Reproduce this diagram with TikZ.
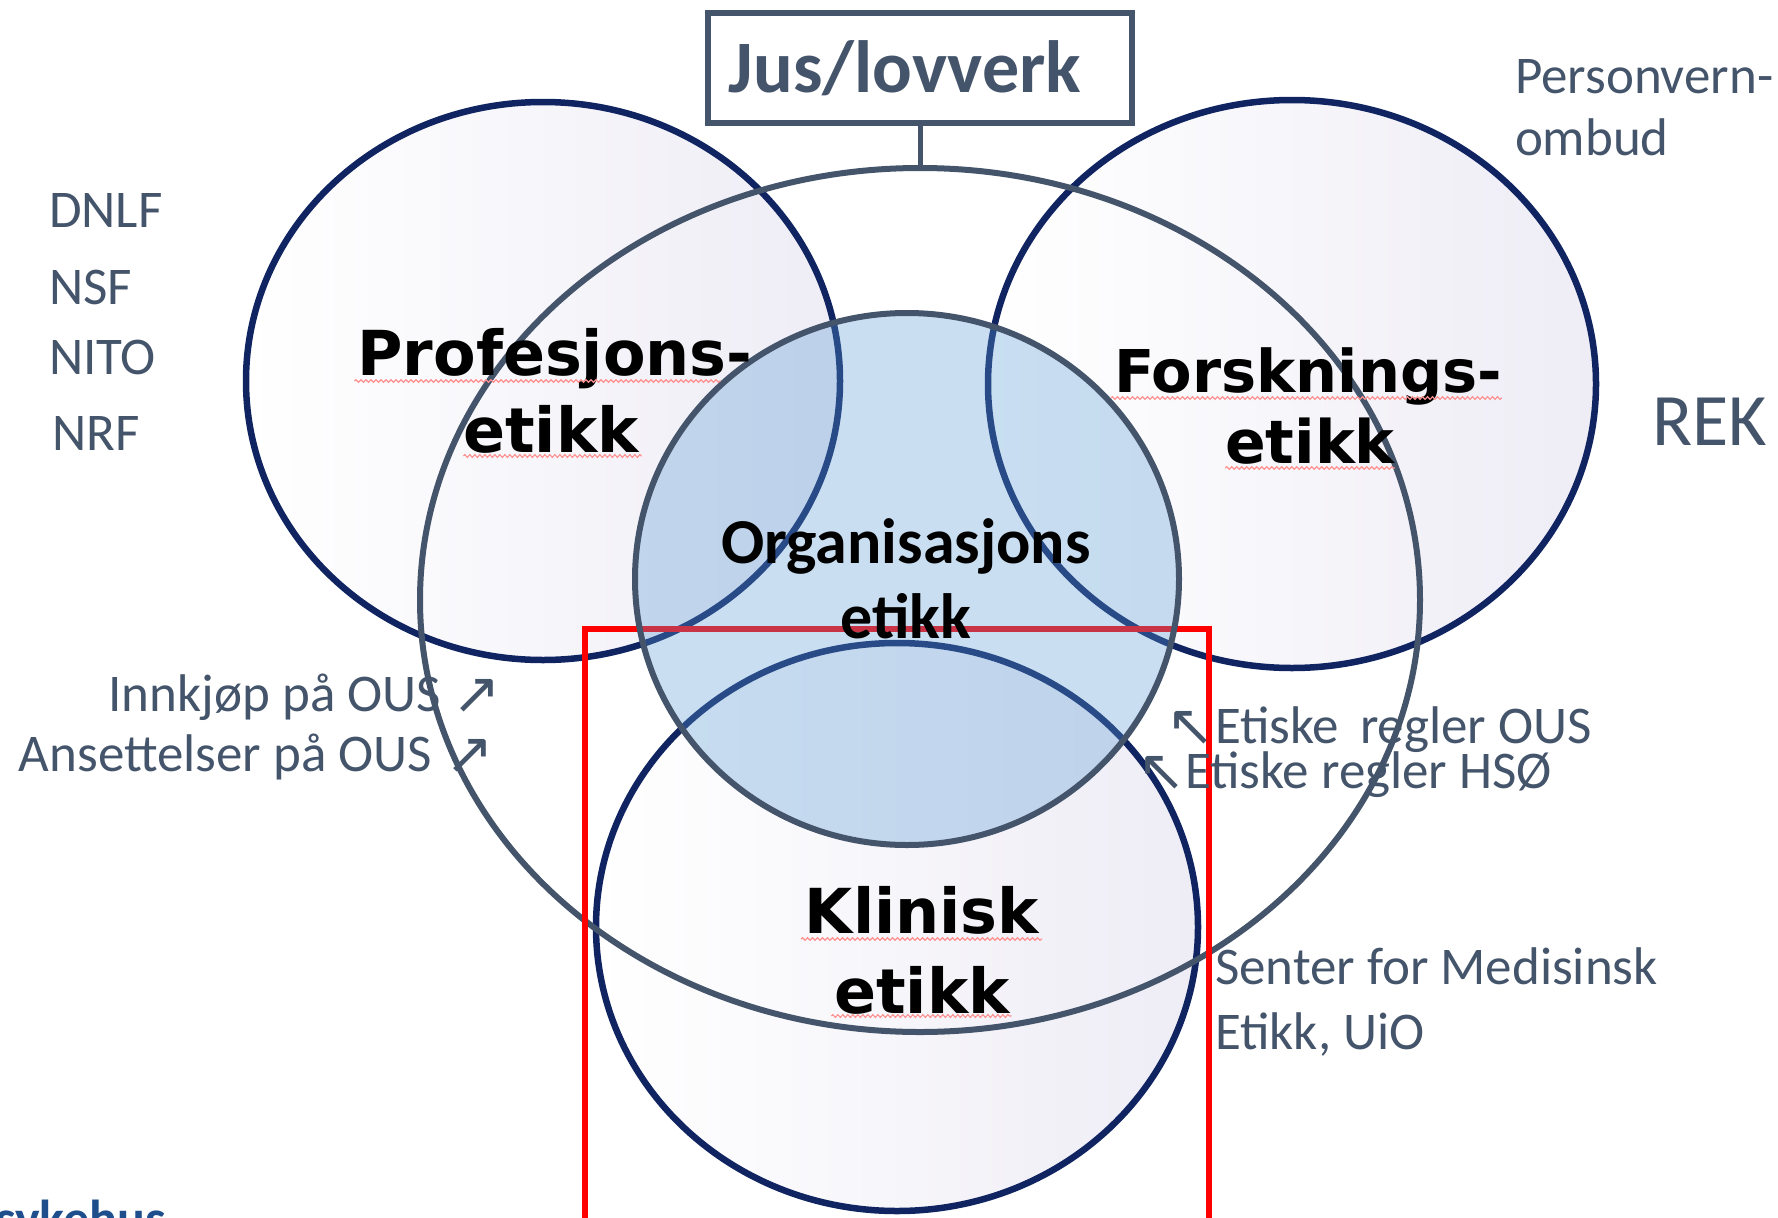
\documentclass[tikz,border=0pt]{standalone}
\usepackage{fontspec}
\setmainfont{Carlito}
\newfontfamily\verd{DejaVu Sans}
\newfontfamily\symf{DejaVu Sans}
\usetikzlibrary{decorations.pathmorphing,calc}
\definecolor{slate}{HTML}{44546A}
\definecolor{navy}{HTML}{0F2461}
\definecolor{orgblue}{HTML}{5B9BD5}
\definecolor{lav}{HTML}{EEECF5}
\definecolor{wavy}{HTML}{FF9090}
\definecolor{logoblue}{HTML}{1F4E8C}
\begin{document}
\begin{tikzpicture}[x=1pt,y=-1pt,
  venn/.style={draw=navy,line width=6.5pt,left color=white,right color=lav},
  outl/.style={draw=slate,line width=6pt},
  lbl/.style={inner sep=0pt,outer sep=0pt,text=slate,font=\fontsize{53}{62}\selectfont},
  arr/.style={inner sep=0pt,outer sep=0pt,text=slate,font=\symf\fontsize{58}{62}\selectfont},
  bigt/.style={inner sep=0pt,outer sep=0pt,text=black},
  orgt/.style={inner sep=0pt,outer sep=0pt,text=black,font=\bfseries\fontsize{64}{70}\selectfont},
  sq/.style={draw=wavy,line width=1.2pt,decorate,decoration={snake,segment length=5pt,amplitude=1.3pt}},
]
\useasboundingbox (0,0) rectangle (1778,1218);
\clip (0,0) rectangle (1778,1218);

% side circles
\path[venn] (543,381) ellipse [x radius=297pt, y radius=279pt];
\path[venn] (1292,384) ellipse [x radius=304pt, y radius=284pt];
\path[venn] (897,927) ellipse [x radius=301pt, y radius=284pt];

% big ellipse
\draw[outl] (920,600) ellipse [x radius=500pt, y radius=432pt];
\coordinate (ellTop) at (920,168);

% red frame
\draw[red, line width=6pt] (585,629) rectangle (1209,1230);

% organisation circle
\fill[orgblue, fill opacity=0.33] (907,579) ellipse [x radius=272pt, y radius=266pt];
\draw[outl] (907,579) ellipse [x radius=272pt, y radius=266pt];

% law box
\node[draw=slate, line width=6pt, minimum width=424pt, minimum height=110pt, inner sep=0pt] (jus) at (920,68) {};
\node[inner sep=0pt, text=slate, font=\bfseries\fontsize{74}{80}\selectfont, anchor=base] (jusT) at (905,92) {Jus/lovverk};
\draw[slate, line width=5pt] (jus.south) -- (ellTop);

% circle titles
\node[bigt, font=\verd\bfseries\fontsize{62}{70}\selectfont, anchor=base] (prof1) at (555,375) {Profesjons-};
\node[bigt, font=\verd\bfseries\fontsize{62}{70}\selectfont, anchor=base] (prof2) at (551,452) {etikk};
\node[bigt, font=\verd\bfseries\fontsize{59}{70}\selectfont, anchor=base] (fors1) at (1308,392) {Forsknings-};
\node[bigt, font=\verd\bfseries\fontsize{60}{70}\selectfont, anchor=base] (fors2) at (1310,463) {etikk};
\node[bigt, font=\verd\bfseries\fontsize{62}{70}\selectfont, anchor=base] (klin1) at (922,933) {Klinisk};
\node[bigt, font=\verd\bfseries\fontsize{62}{70}\selectfont, anchor=base] (klin2) at (922,1013) {etikk};
\node[orgt, anchor=base] (org1) at (906,563) {Organisasjons};
\node[orgt, anchor=base] (org2) at (906,638) {etikk};

% spell-check underlines
\draw[sq] ($(prof1.base west)+(-3,6)$) -- ($(prof1.base east)+(-32,6)$);
\draw[sq] ($(prof2.base west)+(0,4)$) -- ($(prof2.base east)+(3,4)$);
\draw[sq] ($(fors1.base west)+(-3,6)$) -- ($(fors1.base east)+(0,6)$);
\draw[sq] ($(fors2.base west)+(0,5)$) -- ($(fors2.base east)+(0,5)$);
\draw[sq] ($(klin1.base west)+(-4,6)$) -- ($(klin1.base east)+(3,6)$);
\draw[sq] ($(klin2.base west)+(-3,3)$) -- ($(klin2.base east)+(2,3)$);

% side labels
\node[lbl, anchor=base west] (dnlf) at (49,227) {DNLF};
\node[lbl, anchor=base west] (nsf) at (49,304) {NSF};
\node[lbl, anchor=base west] (nito) at (49,374) {NITO};
\node[lbl, anchor=base west] (nrf) at (52,450) {NRF};
\node[lbl, anchor=base west] (pv1) at (1515,93) {Personvern-};
\node[lbl, anchor=base west] (pv2) at (1515,155) {ombud};
\node[lbl, anchor=base west, font=\fontsize{74}{80}\selectfont] (rek) at (1652,445) {REK};
\node[lbl, anchor=base east] (innk) at (441,711) {Innkjøp på OUS};
\node[arr, anchor=base west] (innkA) at (452,713) {↗};
\node[lbl, anchor=base east] (ans) at (432,771) {Ansettelser på OUS};
\node[arr, anchor=base west] (ansA) at (445,773) {↗};
\node[lbl, anchor=base west] (eous) at (1215,743) {Etiske\, regler OUS};
\node[arr, anchor=base east] (eousA) at (1215,745) {↖};
\node[lbl, anchor=base west] (ehso) at (1185,788) {Etiske regler HSØ};
\node[arr, anchor=base east] (ehsoA) at (1186,790) {↖};
\node[lbl, anchor=base west] (sme1) at (1215,984) {Senter for Medisinsk};
\node[lbl, anchor=base west] (sme2) at (1215,1049) {Etikk, UiO};
\node[inner sep=0pt, text=logoblue, font=\bfseries\fontsize{52}{56}\selectfont, anchor=base west] (logo) at (-5,1236) {sykehus};
\end{tikzpicture}
\end{document}
